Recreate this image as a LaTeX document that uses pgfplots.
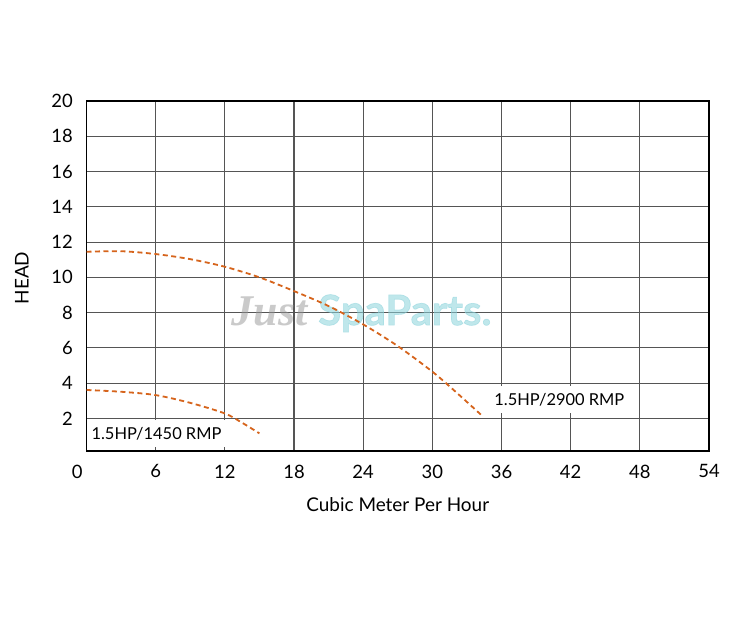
\documentclass[border=0pt]{standalone}
\usepackage{pgfplots}
\pgfplotsset{compat=1.18}
\usepackage{fontspec}
\setmainfont{Lato}
\newfontfamily\wmserif{Liberation Serif}
\newfontfamily\wmbold[BoldFeatures={FakeBold=1.5}]{Lato}
\definecolor{curve}{RGB}{214,100,28}
\definecolor{gridc}{RGB}{85,85,85}
\definecolor{wmcyan}{RGB}{140,212,220}
\definecolor{wmgray}{RGB}{150,150,150}
\begin{document}
\begin{tikzpicture}
\path[fill=white] (0,0) rectangle (740bp,617bp);
\begin{axis}[
  at={(86.5bp,166bp)}, anchor=south west,
  scale only axis, width=622.5bp, height=350bp,
  xmin=0, xmax=54, ymin=0.15, ymax=20,
  xtick={0,6,12,18,24,30,36,42,48,54},
  xticklabels={\llap{0\hspace{4bp}},6,12,18,24,30,36,42,48,54},
  ytick={2,4,6,8,10,12,14,16,18,20},
  /pgf/number format/assume math mode=true,
  tick label style={font=\fontsize{18.5}{20}\selectfont},
  xticklabel style={inner sep=0pt, anchor=north},
  yticklabel style={inner sep=0pt, anchor=east},
  xticklabel shift=13.5bp,
  yticklabel shift=13.5bp,
  major tick length=0pt,
  grid=major,
  major grid style={gridc, line width=1.1bp},
  axis line style={black, line width=1.5bp},
  xlabel={Cubic Meter Per Hour},
  ylabel={HEAD},
  label style={font=\fontsize{19}{21}\selectfont},
  xlabel style={at={(axis description cs:0.5,-0.154)}, anchor=center, inner sep=0pt},
  ylabel style={at={(axis description cs:-0.104,0.494)}, anchor=center, inner sep=0pt},
]
% watermark
\node[anchor=base west, text=wmgray, text opacity=0.5, font=\wmserif\bfseries\itshape\fontsize{44}{46}\selectfont] at (axis cs:12.3,7.29) {Just};
\node[anchor=base west, text=wmcyan, text opacity=0.55, font=\wmbold\bfseries\fontsize{42}{44}\selectfont] at (axis cs:19.8,7.29) {SpaParts.};

\addplot[curve, line width=1.8bp, dash pattern=on 5bp off 3.5bp, smooth, tension=0.5] coordinates {
  (0,11.45) (3,11.48) (6,11.32) (9,11.03) (12,10.6) (15,10.0) (18,9.22) (21,8.37)
  (24,7.33) (27,6.1) (30,4.65) (32,3.52) (34.25,2.19)
};
\addplot[curve, line width=1.8bp, dash pattern=on 5bp off 3.5bp, smooth, tension=0.5] coordinates {
  (0,3.61) (3,3.51) (6,3.32) (9,2.88) (12,2.28) (13.5,1.75) (15,1.15)
};

\node[fill=white, inner xsep=4bp, inner ysep=0pt, minimum height=27bp, font=\fontsize{16.5}{18}\selectfont] at (axis cs:6.07,1.15) {1.5HP/1450 RMP};
\node[fill=white, inner xsep=4bp, inner ysep=0pt, minimum height=27bp, font=\fontsize{16.5}{18}\selectfont] at (axis cs:41.02,3.06) {1.5HP/2900 RMP};
\end{axis}
\end{tikzpicture}
\end{document}
